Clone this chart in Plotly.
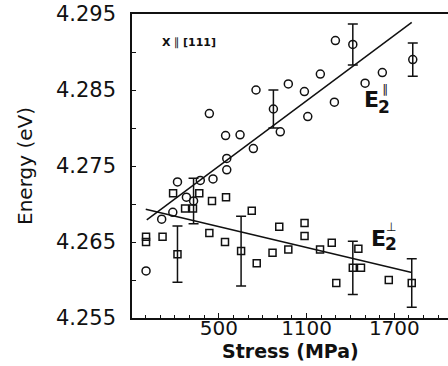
import plotly.graph_objects as go

# E2 parallel branch (open circles): stress in MPa, energy in eV, error (None = no bar)
par_stress = [2, 109, 185, 217, 278, 327, 373, 460, 435, 546, 554, 554, 645, 736,
              754, 873, 920, 975, 1085, 1108, 1194, 1290, 1297, 1416, 1500, 1618, 1826]
par_energy = [4.2612, 4.2680, 4.2689, 4.2729, 4.2709, 4.2704, 4.2731, 4.2733, 4.2819,
              4.2790, 4.2760, 4.2745, 4.2791, 4.2773, 4.2850, 4.2825, 4.2795, 4.2858,
              4.2848, 4.2815, 4.2871, 4.2834, 4.2915, 4.2910, 4.2859, 4.2873, 4.2890]
par_err = [None, None, None, None, None, 0.0030, None, None, None, None, None, None,
           None, None, None, 0.0025, None, None, None, None, None, None, None, 0.0027,
           None, None, 0.0022]

# E2 perpendicular branch (open squares)
perp_stress = [2, 2, 115, 187, 217, 269, 323, 366, 453, 549, 435, 542, 652, 725,
               759, 867, 913, 975, 1086, 1086, 1192, 1272, 1303, 1416, 1472, 1454,
               1662, 1819]
perp_energy = [4.2657, 4.2650, 4.2657, 4.2714, 4.2634, 4.2694, 4.2694, 4.2714, 4.2704,
               4.2709, 4.2662, 4.2650, 4.2638, 4.2691, 4.2622, 4.2636, 4.2670, 4.2640,
               4.2675, 4.2658, 4.2640, 4.2649, 4.2596, 4.2616, 4.2616, 4.2641, 4.2600,
               4.2596]
perp_err = [None, None, None, None, 0.0037, None, None, None, None, None, None, None,
            0.0046, None, None, None, None, None, None, None, None, None, None, 0.0035,
            None, None, None, 0.0032]

# Linear fits (end points)
par_fit_stress = [7, 1819]
par_fit_energy = [4.2679, 4.2939]
perp_fit_stress = [0, 1819]
perp_fit_energy = [4.2693, 4.2610]

x_range = [-94, 2067]
y_range = [4.255, 4.295]

INK = "#111111"
FONT = "DejaVu Sans"

fig = go.Figure()


def add_series(xs, ys, errs, symbol, size):
    plain = [i for i, e in enumerate(errs) if e is None]
    bars = [i for i, e in enumerate(errs) if e is not None]
    marker = dict(symbol=symbol, size=size, color=INK,
                  line=dict(color=INK, width=1.5))
    fig.add_trace(go.Scatter(x=[xs[i] for i in plain], y=[ys[i] for i in plain],
                             mode="markers", marker=marker, showlegend=False))
    fig.add_trace(go.Scatter(x=[xs[i] for i in bars], y=[ys[i] for i in bars],
                             mode="markers", marker=marker, showlegend=False,
                             error_y=dict(type="data", array=[errs[i] for i in bars],
                                          visible=True, color=INK, thickness=1.5,
                                          width=5)))


fig.add_trace(go.Scatter(x=par_fit_stress, y=par_fit_energy, mode="lines",
                         line=dict(color=INK, width=1.5), showlegend=False))
fig.add_trace(go.Scatter(x=perp_fit_stress, y=perp_fit_energy, mode="lines",
                         line=dict(color=INK, width=1.5), showlegend=False))
add_series(par_stress, par_energy, par_err, "circle-open", 8)
add_series(perp_stress, perp_energy, perp_err, "square-open", 7)

annotations = [
    dict(x=97, y=4.2913, text="<b>X</b> \u2225 <b>[111]</b>", xanchor="left",
         font=dict(size=11, family=FONT, color=INK)),
    dict(x=1545, y=4.2837, text="<b>E</b>", font=dict(size=22, family=FONT, color=INK)),
    dict(x=1628, y=4.2828, text="<b>2</b>", font=dict(size=17, family=FONT, color=INK)),
    dict(x=1634, y=4.2851, text="\u2225", font=dict(size=12, family=FONT, color=INK)),
    dict(x=1592, y=4.2654, text="<b>E</b>", font=dict(size=22, family=FONT, color=INK)),
    dict(x=1675, y=4.2648, text="<b>2</b>", font=dict(size=17, family=FONT, color=INK)),
    dict(x=1674, y=4.2670, text="\u22a5", font=dict(size=12, family=FONT, color=INK)),
    # x-axis title
    dict(x=0.5, y=-0.1513, xref="paper", yref="paper", yanchor="bottom",
         text="<b>Stress (MPa)</b>", font=dict(size=19, family=FONT, color=INK)),
]
for a in annotations:
    a.setdefault("xref", "x")
    a.setdefault("yref", "y")
    a["showarrow"] = False

fig.update_layout(
    width=448, height=366,
    margin=dict(l=132, r=0, t=14, b=48),
    paper_bgcolor="white", plot_bgcolor="white",
    font=dict(family=FONT, color=INK),
    annotations=annotations,
    xaxis=dict(
        range=x_range, showgrid=False, zeroline=False,
        showline=True, linecolor=INK, linewidth=1.5, mirror=True,
        tickmode="linear", tick0=500, dtick=600,
        ticks="inside", ticklen=5, tickwidth=1.2, tickcolor=INK,
        ticklabelstandoff=-9,
        tickfont=dict(size=20, family=FONT, color=INK),
        minor=dict(tick0=0, dtick=100, ticks="inside", ticklen=3,
                   tickwidth=1, tickcolor=INK, showgrid=False),
    ),
    yaxis=dict(
        range=y_range, showgrid=False, zeroline=False,
        showline=True, linecolor=INK, linewidth=1.5, mirror=False,
        tickmode="linear", tick0=4.255, dtick=0.01, tickformat=".3f",
        ticks="inside", ticklen=4, tickwidth=1.2, tickcolor=INK,
        ticklabelstandoff=10,
        tickfont=dict(size=21, family=FONT, color=INK),
        minor=dict(dtick=0.005, ticks="inside", ticklen=4, tickwidth=1,
                   tickcolor=INK, showgrid=False),
        title=dict(text="Energy (eV)", font=dict(size=20, family=FONT, color=INK),
                   standoff=18),
    ),
)

fig.write_html("out.html")
